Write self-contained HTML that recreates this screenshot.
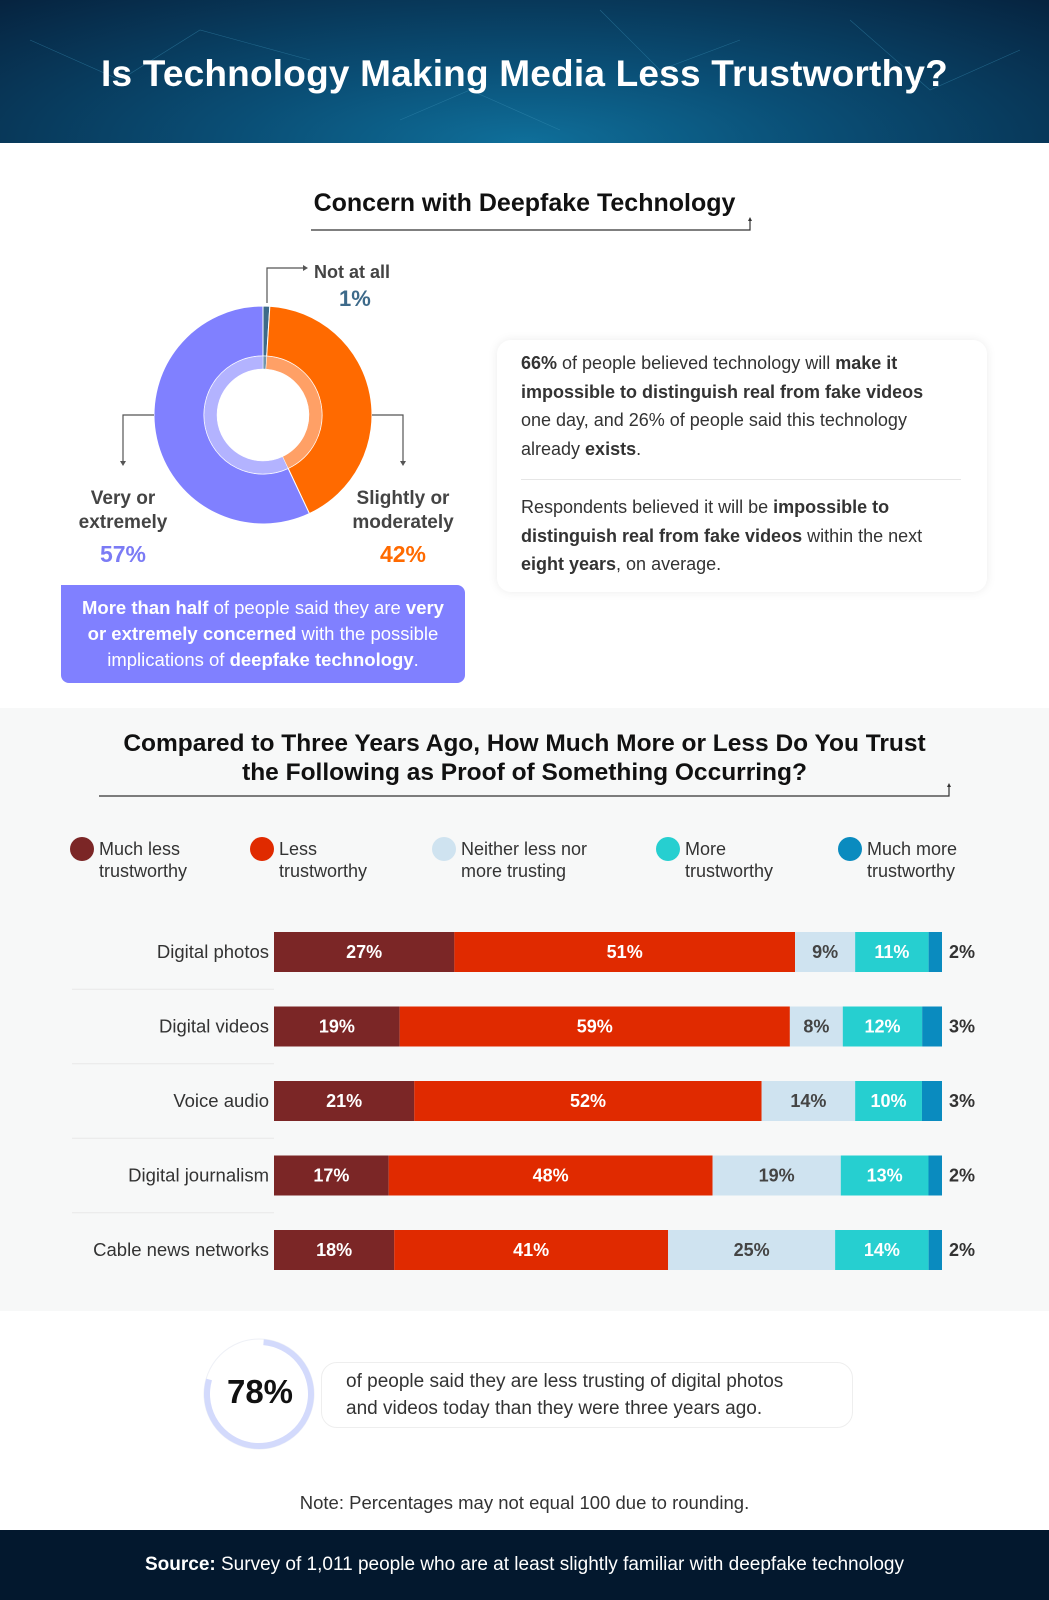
<!DOCTYPE html>
<html><head><meta charset="utf-8">
<style>
*{margin:0;padding:0;box-sizing:border-box}
body{width:1049px;height:1600px;position:relative;font-family:"Liberation Sans",sans-serif;color:#333;background:#fff;overflow:hidden}
.abs{position:absolute}
.hdr{left:0;top:0;width:1049px;height:143px;background:radial-gradient(ellipse at 50% 100%,#0f6f9a 0%,#0a4e75 40%,#06233f 100%)}
.hdr h1{position:absolute;left:0;width:1049px;top:53px;text-align:center;color:#fff;font-size:37px;font-weight:bold;letter-spacing:0.2px}
.sec2{left:0;top:708px;width:1049px;height:603px;background:#f7f8f8}
.st{font-weight:bold;color:#111;text-align:center}
.card{left:497px;top:340px;width:490px;height:252px;background:#fff;border-radius:14px;box-shadow:0 0 10px rgba(0,0,0,0.08)}
.p{font-size:17px;line-height:28.5px;color:#333;white-space:nowrap}
.p b{color:#333}
.pbox{left:61px;top:585px;width:404px;height:98px;background:#8080ff;border-radius:0 8px 8px 8px;color:#fff;font-size:18.5px;line-height:26px;text-align:center;padding-top:10px;white-space:nowrap}
.leg{font-size:18px;line-height:22px;color:#333}
.dot{width:24px;height:24px;border-radius:50%}
.foot{left:0;top:1530px;width:1049px;height:70px;background:#03182e;color:#fff;font-size:19px;text-align:center;line-height:70px}
</style></head>
<body>
<div class="abs hdr">
<svg width="1049" height="143" style="position:absolute;left:0;top:0">
<g stroke="#3a8fb5" stroke-width="0.6" opacity="0.5" fill="none">
<path d="M30 40 L120 80 L200 30 L310 60 M600 10 L660 70 L740 40 M850 20 L930 90 L1020 50 M400 120 L470 90 L560 130"/>
</g></svg>
<h1>Is Technology Making Media Less Trustworthy?</h1>
</div>

<div class="abs st" style="left:0;width:1049px;top:189px;font-size:25px">Concern with Deepfake Technology</div>
<svg class="abs" style="left:0;top:143px" width="1049" height="565" id="donut">
<path d="M311 87 L750 87 L750 77" stroke="#333" stroke-width="1.2" fill="none"/>
<path d="M750 74 l-2 4 h4z" fill="#333"/>
</svg>
<div class="abs" style="left:314px;top:262px;font-size:18px;font-weight:bold;color:#444">Not at all</div>
<div class="abs" style="left:339px;top:286px;font-size:22px;font-weight:bold;color:#3d6a8a">1%</div>
<div class="abs" style="left:58px;width:130px;top:487px;font-size:19px;font-weight:bold;color:#444;text-align:center;line-height:24px">Very or<br>extremely</div>
<div class="abs" style="left:58px;width:130px;top:541px;font-size:23px;font-weight:bold;color:#7b7bf5;text-align:center">57%</div>
<div class="abs" style="left:338px;width:130px;top:487px;font-size:19px;font-weight:bold;color:#444;text-align:center;line-height:24px">Slightly or<br>moderately</div>
<div class="abs" style="left:338px;width:130px;top:541px;font-size:23px;font-weight:bold;color:#ff6a00;text-align:center">42%</div>
<div class="abs pbox"><b>More than half</b> of people said they are <b>very<br>or extremely concerned</b> with the possible<br>implications of <b>deepfake technology</b>.</div>

<div class="abs card">
<div class="abs p" style="left:24px;top:9px;font-size:18px"><b>66%</b> of people believed technology will <b>make it</b><br><b>impossible to distinguish real from fake videos</b><br>one day, and 26% of people said this technology<br>already <b>exists</b>.</div>
<div class="abs" style="left:24px;top:139px;width:440px;height:1px;background:#e6e6e6"></div>
<div class="abs p" style="left:24px;top:153px;font-size:18px">Respondents believed it will be <b>impossible to</b><br><b>distinguish real from fake videos</b> within the next<br><b>eight years</b>, on average.</div>
</div>

<div class="abs sec2"></div>
<div class="abs st" style="left:0;width:1049px;top:729px;font-size:24.5px;line-height:29px;white-space:nowrap">Compared to Three Years Ago, How Much More or Less Do You Trust<br>the Following as Proof of Something Occurring?</div>
<svg class="abs" style="left:0;top:770px" width="1049" height="40">
<path d="M99 26 L949 26 L949 16" stroke="#333" stroke-width="1.2" fill="none"/>
<path d="M949 13 l-2 4 h4z" fill="#333"/>
</svg>
<div id="legend"></div>
<svg class="abs" style="left:0;top:900px" width="1049" height="400" id="bars"></svg>

<svg class="abs" style="left:195px;top:1330px" width="130" height="130">
<circle cx="64" cy="64" r="55" fill="#fff" stroke="#eef0f6" stroke-width="1"/>
<circle cx="64" cy="64" r="52" fill="none" stroke="#d3dafc" stroke-width="6" stroke-dasharray="255 72" transform="rotate(-85 64 64)"/>
</svg>
<div class="abs" style="left:195px;width:130px;top:1373px;text-align:center;font-size:33px;font-weight:bold;color:#111">78%</div>
<div class="abs" style="left:321px;top:1362px;width:532px;height:66px;border:1px solid #eee;border-radius:16px;background:#fff"></div>
<div class="abs p" style="left:346px;top:1368px;font-size:19px;line-height:27px">of people said they are less trusting of digital photos<br>and videos today than they were three years ago.</div>
<div class="abs" style="left:0;width:1049px;top:1492px;text-align:center;font-size:18.5px;color:#333">Note: Percentages may not equal 100 due to rounding.</div>
<div class="abs foot"><b>Source:</b> Survey of 1,011 people who are at least slightly familiar with deepfake technology</div>

<script>
// donut data
const donutLabels=["Not at all","Slightly or moderately","Very or extremely"];
const donutValues=[1,42,57];
const donutColors=["#3d6a8a","#ff6a00","#8080ff"];
const donutInner=["#6f93ad","#ffa066","#b3b3ff"];
// bar data
const categories=["Digital photos","Digital videos","Voice audio","Digital journalism","Cable news networks"];
const muchLess=[27,19,21,17,18];
const less=[51,59,52,48,41];
const neither=[9,8,14,19,25];
const more=[11,12,10,13,14];
const muchMore=[2,3,3,2,2];
const seriesNames=["Much less trustworthy","Less trustworthy","Neither less nor more trusting","More trustworthy","Much more trustworthy"];
const legendLines=[["Much less","trustworthy"],["Less","trustworthy"],["Neither less nor","more trusting"],["More","trustworthy"],["Much more","trustworthy"]];

const NS="http://www.w3.org/2000/svg";
function mk(tag,attrs,parent){const e=document.createElementNS(NS,tag);for(const k in attrs)e.setAttribute(k,attrs[k]);parent.appendChild(e);return e;}

// donut
(function(){
 const svg=document.getElementById('donut');
 const cx=263,cy=272;
 const tot=donutValues.reduce((a,b)=>a+b,0);
 function arc(r0,r1,a0,a1){
  const p=(r,a)=>[cx+r*Math.sin(a),cy-r*Math.cos(a)];
  const lg=(a1-a0)>Math.PI?1:0;
  const A=p(r1,a0),B=p(r1,a1),C=p(r0,a1),D=p(r0,a0);
  return `M${A} A${r1} ${r1} 0 ${lg} 1 ${B} L${C} A${r0} ${r0} 0 ${lg} 0 ${D}Z`;
 }
 let a=0;
 donutValues.forEach((v,i)=>{
  const a1=a+v/tot*2*Math.PI;
  const s=mk('path',{d:arc(59,109,a,a1),fill:donutColors[i],stroke:'#fff','stroke-width':1},svg);
  
  
  const s2=mk('path',{d:arc(46,59,a,a1),fill:donutInner[i],stroke:'#fff','stroke-width':0.5},svg);
  
  
  a=a1;
 });
 const g='#555';
 mk('path',{d:'M267 160 L267 125 L305 125',stroke:g,fill:'none','stroke-width':1.2},svg);
 mk('path',{d:'M154 272 L123 272 L123 320',stroke:g,fill:'none','stroke-width':1.2},svg);
 mk('path',{d:'M372 272 L403 272 L403 320',stroke:g,fill:'none','stroke-width':1.2},svg);
 mk('path',{d:'M120 318 l3 5 l3 -5z M400 318 l3 5 l3 -5z M303 122 l5 3 l-5 3z',fill:g},svg);
})();

// legend
(function(){
 const lx=[70,250,432,656,838];
 const cols=["#7b2626","#e02a00","#cfe3f0","#26cfd0","#0a8bbf"];
 const host=document.getElementById('legend');
 seriesNames.forEach((n,i)=>{
  const d=document.createElement('div');d.className='abs dot';
  d.style.left=lx[i]+'px';d.style.top='837px';d.style.background=cols[i];
  
  
  host.appendChild(d);
  const t=document.createElement('div');t.className='abs leg';
  t.style.left=(lx[i]+29)+'px';t.style.top='838px';
  t.innerHTML=legendLines[i][0]+'<br>'+legendLines[i][1];
  
  
  host.appendChild(t);
 });
})();

// bars
(function(){
 const svg=document.getElementById('bars');
 const x0=274,x1=942,rowY0=52,rowStep=74.5,bh=40;
 const series=[muchLess,less,neither,more,muchMore];
 const cols=["#7b2626","#e02a00","#cfe3f0","#26cfd0","#0a8bbf"];
 const txt=["#fff","#fff","#444","#fff","#333"];
 categories.forEach((c,r)=>{
  const cy=rowY0+r*rowStep;
  const tot=series.reduce((s,a)=>s+a[r],0);
  const xs=v=>v/tot*(x1-x0);
  if(r<categories.length-1){mk('line',{x1:72,x2:274,y1:cy+rowStep/2,y2:cy+rowStep/2,stroke:'#e8e8e8'},svg);}
  const lab=mk('text',{x:269,y:cy+6,'text-anchor':'end','font-size':18.5,fill:'#333','font-family':'Liberation Sans'},svg);
  lab.textContent=c;
  
  
  let x=x0;
  series.forEach((s,k)=>{
   const w=xs(s[r]);
   const rect=mk('rect',{x:x,y:cy-bh/2,width:w,height:bh,fill:cols[k]},svg);
   
   
   const t=mk('text',{'font-size':18,'font-weight':'bold','font-family':'Liberation Sans',y:cy+6},svg);
   t.textContent=s[r]+'%';
   if(k===4){t.setAttribute('x',x1+7);t.setAttribute('fill','#333');}
   else{t.setAttribute('x',x+w/2);t.setAttribute('text-anchor','middle');t.setAttribute('fill',txt[k]);}
   
   
   x+=w;
  });
 });
})();
</script>
</body></html>
